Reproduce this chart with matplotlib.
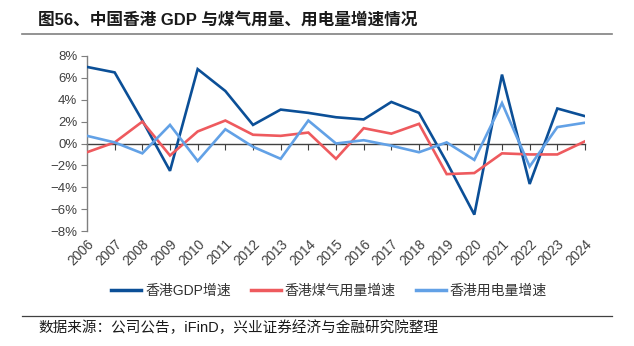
import matplotlib
matplotlib.use("Agg")
import matplotlib.pyplot as plt
from matplotlib.ticker import FuncFormatter
from matplotlib.lines import Line2D

plt.rcParams['font.family'] = ['Liberation Sans', 'Noto Sans CJK SC', 'DejaVu Sans']
plt.rcParams['axes.unicode_minus'] = True

years = list(range(2006, 2025))
year_labels = [str(y) for y in years]
gdp = [7.0, 6.5, 2.1, -2.5, 6.8, 4.8, 1.7, 3.1, 2.8, 2.4, 2.2, 3.8, 2.8, -1.7, -6.5, 6.3, -3.7, 3.2, 2.5]
gas = [-0.8, 0.1, 2.0, -1.1, 1.1, 2.1, 0.8, 0.7, 1.0, -1.4, 1.4, 0.9, 1.8, -2.8, -2.7, -0.9, -1.0, -1.0, 0.2]
elec = [0.7, 0.1, -0.9, 1.7, -1.6, 1.3, -0.3, -1.4, 2.1, 0.0, 0.3, -0.2, -0.8, 0.1, -1.5, 3.7, -2.1, 1.5, 1.9]
series_names = ['香港GDP增速', '香港煤气用量增速', '香港用电量增速']
colors = ['#0B4F97', '#EE5A5E', '#62A1E6']

W, H = 634, 346
fig = plt.figure(figsize=(W / 100, H / 100), dpi=100)

ax = fig.add_axes([87 / W, 1 - 231 / H, (585 - 87) / W, (231 - 56) / H])
for vals, c, n in zip([gdp, gas, elec], colors, series_names):
    ax.plot(years, vals, color=c, lw=1.9, label=n, solid_joinstyle='miter', zorder=3)

ax.set_xlim(2006, 2024)
ax.set_ylim(-8, 8)
ax.set_yticks(range(-8, 9, 2))
ax.yaxis.set_major_formatter(FuncFormatter(lambda v, p: ('−' if v < 0 else '') + f'{abs(int(v))}%'))
ax.tick_params(axis='y', direction='out', length=4, color='#7f7f7f', labelsize=9.5, labelcolor='#404040', pad=3)

for s in ['top', 'right']:
    ax.spines[s].set_visible(False)
ax.spines['left'].set_color('#7f7f7f')
ax.spines['left'].set_linewidth(1.0)
ax.spines['bottom'].set_position(('data', 0))
ax.spines['bottom'].set_color('#404040')
ax.spines['bottom'].set_linewidth(1.0)
ax.spines['bottom'].set_zorder(2)
ax.set_xticks(years)
ax.tick_params(axis='x', direction='out', length=4, color='#404040', labelbottom=False)

sec = ax.secondary_xaxis('bottom')
sec.set_xticks(years)
sec.set_xticklabels(year_labels, rotation=45, ha='right', va='top', rotation_mode='anchor')
sec.tick_params(length=0, labelsize=9.8, labelcolor='#404040', pad=4)
sec.spines['bottom'].set_visible(False)

handles = [Line2D([0], [0], color=c, lw=2.5) for c in colors]
fig.legend(handles, series_names, loc='center', bbox_to_anchor=(329 / W, 1 - 291 / H),
           ncol=3, frameon=False, fontsize=10, handlelength=2.15, handletextpad=0.3,
           columnspacing=1.45, labelcolor='#333333')

fig.text(38 / W, 1 - 20 / H, '图56、中国香港 GDP 与煤气用量、用电量增速情况', fontsize=12,
         fontweight='bold', ha='left', va='center', color='#1a1a1a')
fig.add_artist(Line2D([22 / W, 612 / W], [1 - 34 / H, 1 - 34 / H], color='#808080', lw=1.2))
fig.add_artist(Line2D([22 / W, 612 / W], [1 - 316 / H, 1 - 316 / H], color='#404040', lw=0.9))
fig.text(38 / W, 1 - 328 / H, '数据来源：公司公告，iFinD，兴业证券经济与金融研究院整理', fontsize=10.5,
         ha='left', va='center', color='#1a1a1a')

fig.savefig('out.png', dpi=100)
